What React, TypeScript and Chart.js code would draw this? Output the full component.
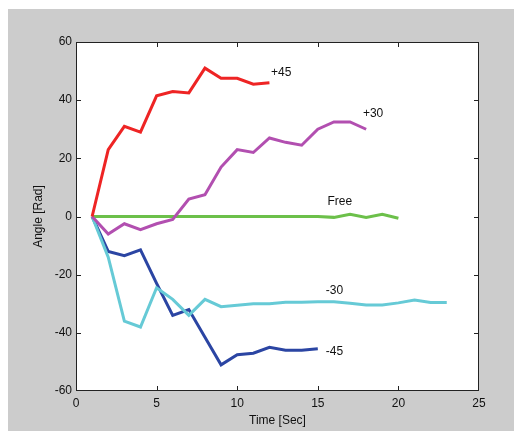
import React, { useEffect, useRef } from "react";
import { Chart, registerables } from "chart.js";

Chart.register(...registerables);

const times = [1, 2, 3, 4, 5, 6, 7, 8, 9, 10, 11, 12, 13, 14, 15, 16, 17, 18, 19, 20, 21, 22, 23];
const plus45 = [0, 23, 31, 29, 41.5, 43, 42.5, 51, 47.5, 47.5, 45.5, 46];
const plus30 = [0, -6, -2.5, -4.5, -2.5, -1, 6, 7.5, 17, 23, 22, 27, 25.5, 24.5, 30, 32.5, 32.5, 30];
const free = [0, 0, 0, 0, 0, 0, 0, 0, 0, 0, 0, 0, 0, 0, 0, -0.3, 0.8, -0.3, 0.8, -0.6];
const minus30 = [0, -14, -36, -38, -24.5, -28.5, -34, -28.5, -31, -30.5, -30, -30, -29.5, -29.5, -29.3, -29.3, -29.8, -30.4, -30.4, -29.7, -28.7, -29.6, -29.6];
const minus45 = [0, -12, -13.5, -11.5, -23, -34, -32, -41.5, -51, -47.5, -47, -45, -46, -46, -45.5];

const seriesValues = [plus45, plus30, free, minus30, minus45];
const seriesColors = ["#ee2424", "#b24fb0", "#6cc04a", "#66cad6", "#2b45a3"];

const seriesLabels = ["+45", "+30", "Free", "-30", "-45"];
const labelTimes = [12.1, 17.8, 15.6, 15.5, 15.5];
const labelAngles = [49.3, 35.5, 5.1, -25.6, -46.5];

const xTicks = [0, 5, 10, 15, 20, 25];
const yTicks = [-60, -40, -20, 0, 20, 40, 60];

const FONT = "Liberation Sans, Arial, sans-serif";

const framePlugin = {
  id: "frame",
  beforeDraw(chart: any) {
    const { ctx, chartArea } = chart;
    ctx.save();
    ctx.fillStyle = "#cccccc";
    ctx.fillRect(0, 0, chart.width, chart.height);
    ctx.fillStyle = "#ffffff";
    ctx.fillRect(chartArea.left, chartArea.top, chartArea.right - chartArea.left, chartArea.bottom - chartArea.top);
    ctx.restore();
  },
  afterDraw(chart: any) {
    const { ctx, chartArea, scales } = chart;
    const { left, right, top, bottom } = chartArea;
    ctx.save();
    ctx.strokeStyle = "#222222";
    ctx.lineWidth = 1;
    ctx.strokeRect(left + 0.5, top + 0.5, right - left - 1, bottom - top - 1);
    const tl = 5;
    ctx.beginPath();
    xTicks.slice(1, -1).forEach((v) => {
      const x = Math.round(scales.x.getPixelForValue(v)) + 0.5;
      ctx.moveTo(x, bottom);
      ctx.lineTo(x, bottom - tl);
      ctx.moveTo(x, top);
      ctx.lineTo(x, top + tl);
    });
    yTicks.slice(1, -1).forEach((v) => {
      const y = Math.round(scales.y.getPixelForValue(v)) + 0.5;
      ctx.moveTo(left, y);
      ctx.lineTo(left + tl, y);
      ctx.moveTo(right, y);
      ctx.lineTo(right - tl, y);
    });
    ctx.stroke();
    ctx.fillStyle = "#111111";
    ctx.font = `12px ${FONT}`;
    ctx.textAlign = "left";
    ctx.textBaseline = "middle";
    seriesLabels.forEach((t, i) => {
      ctx.fillText(t, scales.x.getPixelForValue(labelTimes[i]), scales.y.getPixelForValue(labelAngles[i]));
    });
    ctx.restore();
  },
};

export default function App() {
  const ref = useRef<HTMLCanvasElement>(null);
  useEffect(() => {
    if (!ref.current) return;
    const chart = new Chart(ref.current, {
      type: "line",
      data: {
        datasets: seriesValues.map((vals, i) => ({
          label: seriesLabels[i],
          data: vals.map((v, j) => ({ x: times[j], y: v })),
          borderColor: seriesColors[i],
          backgroundColor: seriesColors[i],
          borderWidth: 3,
          pointRadius: 0,
          tension: 0,
          fill: false,
        })),
      },
      options: {
        animation: false,
        responsive: false,
        devicePixelRatio: 1,
        layout: { padding: { left: 0, top: 33, right: 35, bottom: 0 } },
        plugins: { legend: { display: false }, tooltip: { enabled: false } },
        scales: {
          x: {
            type: "linear",
            min: 0,
            max: 25,
            afterBuildTicks: (s: any) => {
              s.ticks = xTicks.map((v) => ({ value: v }));
            },
            afterFit: (s: any) => {
              s.height = 40;
            },
            grid: { display: false, drawTicks: false },
            border: { display: false },
            ticks: { padding: 5, color: "#111111", font: { family: FONT, size: 12 }, maxRotation: 0 },
            title: { display: true, text: "Time [Sec]", color: "#111111", font: { family: FONT, size: 12 }, padding: { top: 0, bottom: 3 } },
          },
          y: {
            type: "linear",
            min: -60,
            max: 60,
            afterBuildTicks: (s: any) => {
              s.ticks = yTicks.map((v) => ({ value: v }));
            },
            afterFit: (s: any) => {
              s.width = 68;
            },
            grid: { display: false, drawTicks: false },
            border: { display: false },
            ticks: { padding: 4, color: "#111111", font: { family: FONT, size: 12 } },
            title: { display: true, text: "Angle [Rad]", color: "#111111", font: { family: FONT, size: 12 }, padding: { top: 23, bottom: 0 } },
          },
        },
      },
      plugins: [framePlugin],
    });
    return () => chart.destroy();
  }, []);
  return (
    <div style={{ position: "fixed", left: 8, top: 9, width: 506, height: 422 }}>
      <canvas ref={ref} width={506} height={422} style={{ display: "block" }} />
    </div>
  );
}
